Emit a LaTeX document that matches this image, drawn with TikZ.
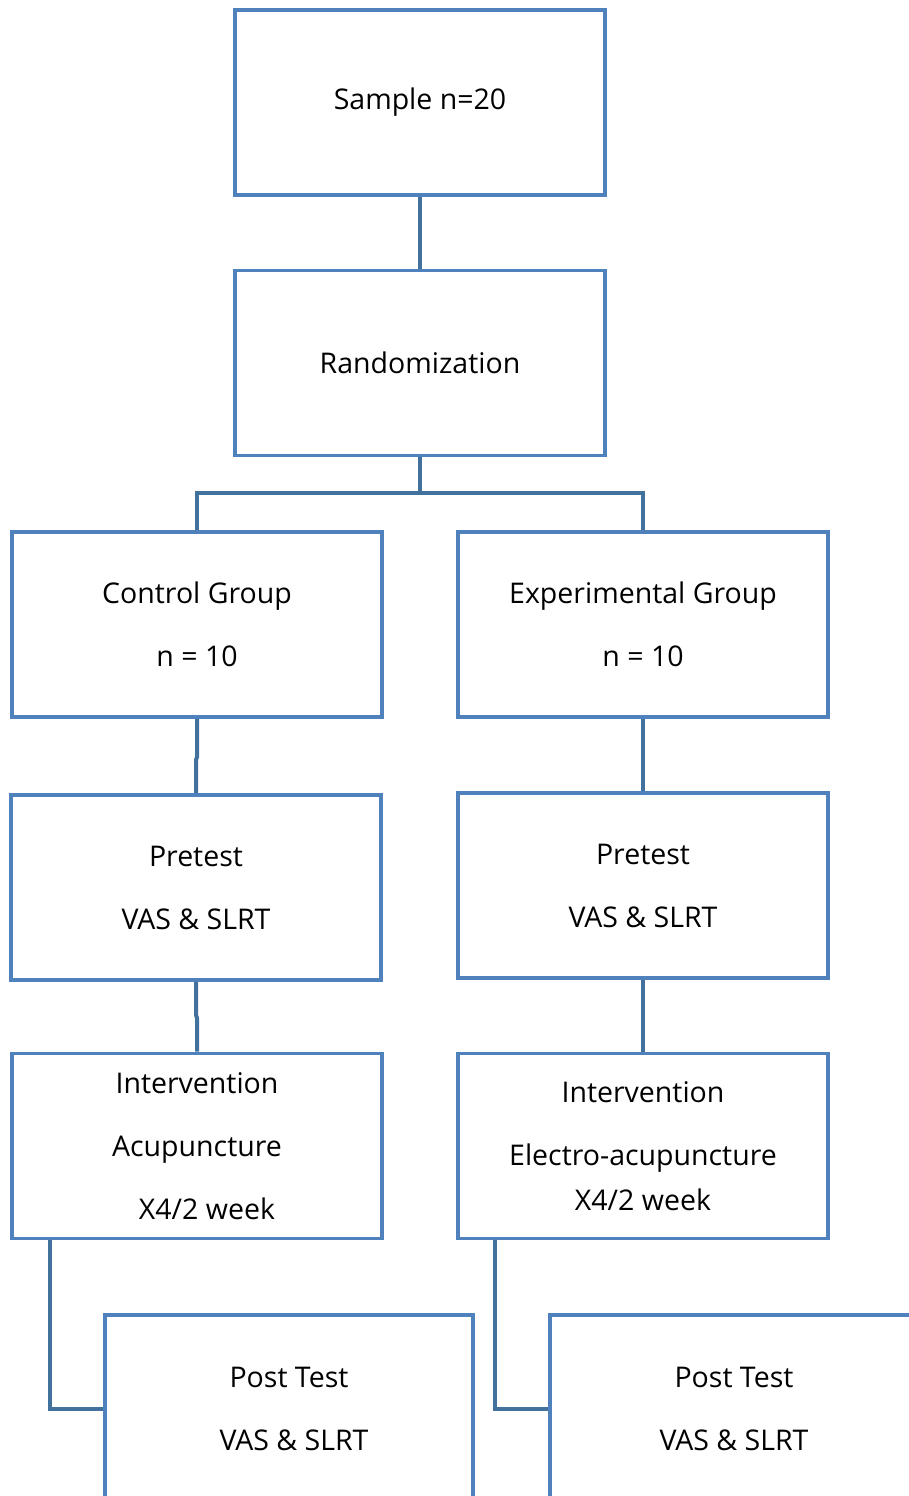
\documentclass[tikz,border=0pt]{standalone}
\usepackage{fontspec}
\setmainfont{Open Sans}
\definecolor{boxblue}{HTML}{4F81BD}
\definecolor{lineblue}{HTML}{41719C}
\begin{document}
\begin{tikzpicture}[x=1pt,y=-1pt,
  box/.style={draw=boxblue, line width=3.6pt, rectangle, minimum width=370pt, minimum height=185pt,
    inner sep=0pt, align=center, font=\fontsize{28.5}{63}\selectfont, text=black},
  conn/.style={draw=lineblue, line width=4pt}]
\useasboundingbox (0,0) rectangle (909,1496);
\clip (0,0) rectangle (909,1496);
\fill[white] (0,0) rectangle (909,1496);
% boxes
\node[box] (sample) at (420,102.5) {Sample n=20};
\node[box] (rand) at (420,363) {Randomization};
\node[box] (ctrl) at (197,624.5) {Control Group\\n = 10};
\node[box] (exp) at (643,624.5) {Experimental Group\\n = 10};
\node[box] (preL) at (196,887.5) {Pretest\\VAS \& SLRT};
\node[box] (preR) at (643,885.5) {Pretest\\VAS \& SLRT};
\node[box] (intL) at (197,1146) {Intervention\\Acupuncture\\\hspace*{20pt}X4/2 week};
\node[box] (intR) at (643,1146) {Intervention\\Electro-acupuncture\\[-18pt]X4/2 week};
\node[box, minimum width=368pt, minimum height=187pt] (postL) at (289,1408.5) {Post Test\\\hspace*{10pt}VAS \& SLRT};
\node[box, minimum width=368pt, minimum height=187pt] (postR) at (734,1408.5) {Post Test\\VAS \& SLRT};
% connectors
\draw[conn] (sample.south) -- (rand.north);
\coordinate (split) at (420,493);
\draw[conn] (rand.south) -- (split);
\draw[conn] (split) -| (ctrl.north);
\draw[conn] (split) -| (exp.north);
\draw[conn] (ctrl.south) -- (197,757) -- (196,760) -- (preL.north);
\draw[conn] (exp.south) -- (preR.north);
\draw[conn] (preL.south) -- (196,1015) -- (197,1018) -- (intL.north);
\draw[conn] (preR.south) -- (intR.north);
\draw[conn] (intL.south west) ++(40,0) coordinate (aL) |- (postL.west);
\draw[conn] (intR.south west) ++(39,0) coordinate (aR) |- (postR.west);
\end{tikzpicture}
\end{document}
